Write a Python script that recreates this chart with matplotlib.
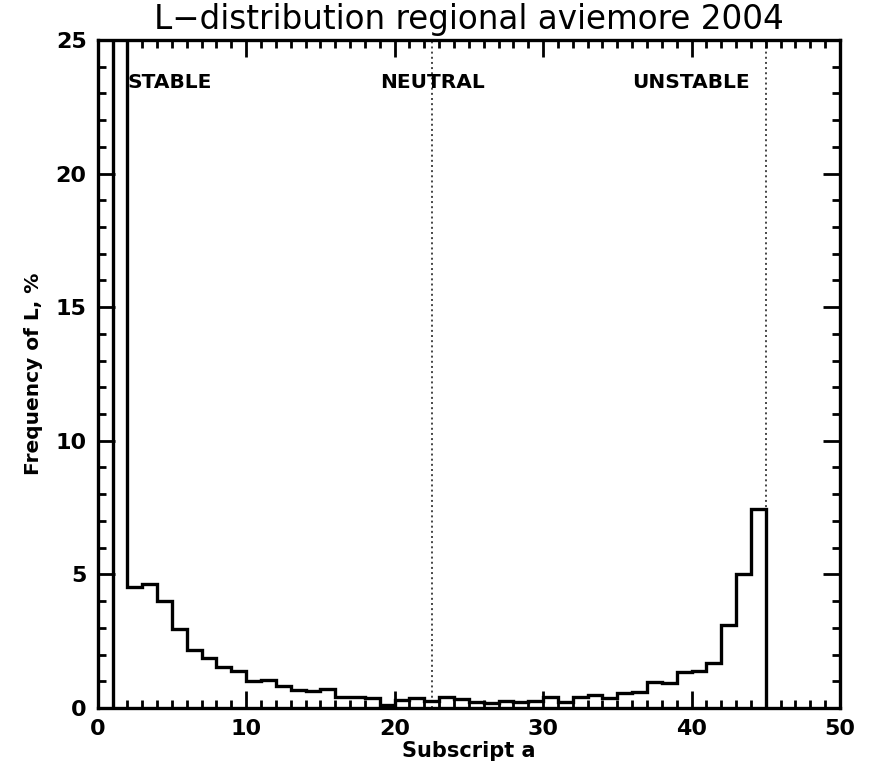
import matplotlib
matplotlib.use('Agg')
import matplotlib.pyplot as plt
from matplotlib.ticker import MultipleLocator

# 히스토그램 구간 (Subscript a)
bin_edges = list(range(1, 46))
# 구간별 빈도 (%), 첫 구간은 축 위로 잘림
freq = [28.0, 4.52, 4.65, 3.99, 2.96, 2.18, 1.86, 1.55, 1.40, 1.00,
        1.05, 0.84, 0.69, 0.62, 0.71, 0.40, 0.40, 0.36, 0.10, 0.30,
        0.36, 0.28, 0.40, 0.33, 0.24, 0.18, 0.26, 0.24, 0.28, 0.40,
        0.24, 0.43, 0.49, 0.36, 0.55, 0.61, 0.97, 0.92, 1.34, 1.37,
        1.67, 3.09, 5.01, 7.45]
# 구분선과 영역 라벨
divider_x = [22.5, 45.0]
region_labels = ['STABLE', 'NEUTRAL', 'UNSTABLE']
region_label_x = [2.0, 19.0, 36.0]
region_label_y = 23.4

plt.rcParams['font.family'] = ['DejaVu Sans']

fig = plt.figure(figsize=(8.69, 7.76), dpi=100)
ax = fig.add_axes([0.1124, 0.0876, 0.8542, 0.861])

ax.stairs(freq, bin_edges, baseline=0, color='black', linewidth=2.4)

for xv in divider_x:
    ax.axvline(xv, color='#444444', linestyle=':', linewidth=1.4, zorder=0)

for lbl, xv in zip(region_labels, region_label_x):
    ax.text(xv, region_label_y, lbl, fontsize=14.5, fontweight='bold',
            ha='left', va='center')

ax.set_xlim(0, 50)
ax.set_ylim(0, 25)
ax.xaxis.set_major_locator(MultipleLocator(10))
ax.xaxis.set_minor_locator(MultipleLocator(1))
ax.yaxis.set_major_locator(MultipleLocator(5))
ax.yaxis.set_minor_locator(MultipleLocator(1))
ax.tick_params(which='both', direction='in', top=True, right=True,
               width=2, labelsize=16, pad=8)
ax.tick_params(which='major', length=12)
ax.tick_params(which='minor', length=6)
for lab in ax.get_xticklabels() + ax.get_yticklabels():
    lab.set_fontweight('bold')
for sp in ax.spines.values():
    sp.set_linewidth(2.4)

ax.set_title('L\u2212distribution regional aviemore 2004', fontsize=23.5, pad=8)
ax.set_xlabel('Subscript a', fontsize=15, fontweight='bold', labelpad=1)
ax.set_ylabel('Frequency of L, %', fontsize=14.5, fontweight='bold', labelpad=9)

fig.savefig('out.png', dpi=100)
